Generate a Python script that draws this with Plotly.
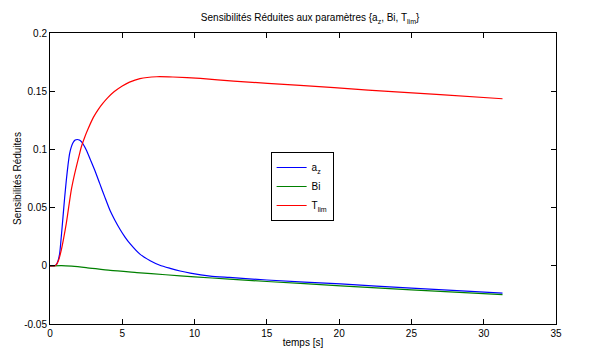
import plotly.graph_objects as go

# Data
t_az = [0, 0.3, 0.44, 0.55, 0.67, 0.78, 0.9, 1.01, 1.13, 1.25, 1.36, 1.47, 1.59, 1.74, 1.89, 2.03, 2.17,
        2.51, 2.8, 3.09, 3.43, 3.78, 4.17, 4.47, 4.86, 5.2, 5.55, 6.24, 6.93, 7.6, 8.31, 9.0, 9.7,
        11.08, 12.4, 15, 20.1, 25, 31.3]
v_az = [0, 0, 0.001, 0.004, 0.0107, 0.025, 0.042, 0.058, 0.0737, 0.087, 0.0966, 0.102, 0.1057, 0.108,
        0.1085, 0.108, 0.1066, 0.0995, 0.091, 0.0823, 0.071, 0.0594, 0.0470, 0.0396, 0.0310, 0.0245,
        0.0188, 0.0098, 0.0044, 0.0005, -0.0022, -0.0045, -0.0063, -0.0088, -0.0100, -0.0122, -0.0156,
        -0.0192, -0.0235]

t_bi = [0, 0.8, 1.5, 2.5, 4.17, 6, 8, 10, 12.4, 15, 20.1, 25, 31.3]
v_bi = [0, 0.0002, -0.0003, -0.0015, -0.004, -0.0058, -0.0077, -0.0095, -0.0114, -0.0135, -0.0172,
        -0.0207, -0.0248]

t_tl = [0, 0.35, 0.44, 0.6, 0.78, 0.95, 1.13, 1.3, 1.47, 1.65, 1.82, 2.0, 2.17, 2.4, 2.63, 3.0, 3.32,
        3.65, 4.0, 4.45, 5.0, 5.5, 6.22, 7.38, 8.5, 10.4, 12.7, 17.3, 22, 27, 31.3]
v_tl = [0, 0, 0.001, 0.005, 0.0135, 0.024, 0.0366, 0.051, 0.065, 0.076, 0.085, 0.094, 0.1023, 0.1105,
        0.1175, 0.1275, 0.134, 0.1395, 0.1445, 0.1497, 0.1545, 0.1578, 0.1608, 0.1624, 0.1622, 0.161,
        0.1587, 0.155, 0.151, 0.147, 0.1435]

x_ticks = [0, 5, 10, 15, 20, 25, 30, 35]
y_ticks = [-0.05, 0, 0.05, 0.1, 0.15, 0.2]
y_ticktext = ["-0.05", "0", "0.05", "0.1", "0.15", "0.2"]

fig = go.Figure()
fig.add_trace(go.Scatter(x=t_az, y=v_az, mode="lines", name="a<sub>z</sub>",
                         line=dict(color="#0000FF", width=1.2, shape="spline", smoothing=0.6)))
fig.add_trace(go.Scatter(x=t_bi, y=v_bi, mode="lines", name="Bi",
                         line=dict(color="#008000", width=1.2, shape="spline", smoothing=0.6)))
fig.add_trace(go.Scatter(x=t_tl, y=v_tl, mode="lines", name="T<sub>lim</sub>",
                         line=dict(color="#FF0000", width=1.2, shape="spline", smoothing=0.6)))

axis_common = dict(showgrid=False, zeroline=False, showline=True, linecolor="black", linewidth=1,
                   mirror="allticks", ticks="inside", ticklen=5, tickcolor="black", automargin=False,
                   tickfont=dict(family="Liberation Sans, Arial", size=10, color="black"))

# The page body adds an 8px offset, so the figure is 8px smaller on each axis.
fig.update_layout(
    width=581, height=342,
    margin=dict(l=42, r=33, t=25, b=26),
    paper_bgcolor="white", plot_bgcolor="white",
    font=dict(family="Liberation Sans, Arial", size=10, color="black"),
    title=dict(text="Sensibilités Réduites aux paramètres {a<sub>z</sub>, Bi, T<sub>lim</sub>}",
               x=0.52, xanchor="center", y=0.971, yanchor="middle",
               font=dict(size=10, color="black")),
    xaxis=dict(range=[0, 35], tickvals=x_ticks,
               title=dict(text="temps [s]", standoff=0, font=dict(size=10)), **axis_common),
    yaxis=dict(range=[-0.05, 0.2], tickvals=y_ticks, ticktext=y_ticktext,
               title=dict(text="Sensibilités Réduites", standoff=0, font=dict(size=10)), **axis_common),
    legend=dict(x=0.436, y=0.591, xanchor="left", yanchor="top", bgcolor="white",
                bordercolor="black", borderwidth=1, font=dict(size=10), itemwidth=30,
                tracegroupgap=0),
    showlegend=True,
)

fig.write_html("out.html")
